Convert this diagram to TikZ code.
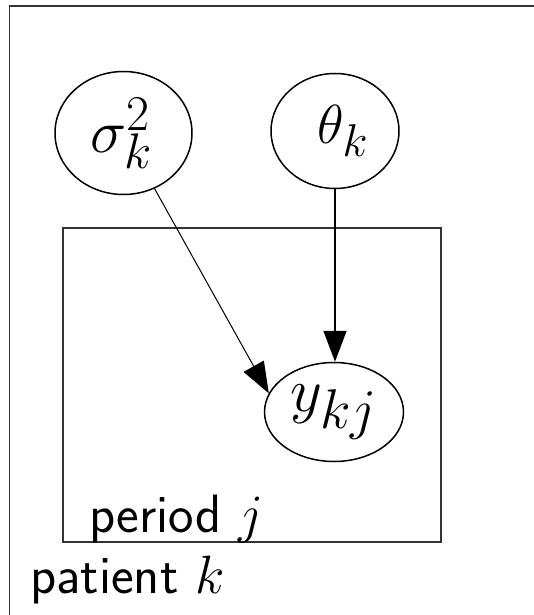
\RequirePackage{fix-cm}
\documentclass[tikz,border=0pt]{standalone}
\usetikzlibrary{shapes.geometric,arrows.meta}
% math sizes for the large node fonts
\DeclareMathSizes{27}{27}{22.5}{16}
\DeclareMathSizes{27.5}{27.5}{23}{17}
\DeclareMathSizes{30.5}{30.5}{25}{18}
\DeclareMathSizes{31}{31}{28}{20}
\begin{document}
\begin{tikzpicture}[x=0.5pt,y=-0.5pt,
  var/.style={ellipse,draw,line width=0.75pt,inner sep=0pt},
  plate/.style={draw=black!80,line width=0.8pt},
  platelabel/.style={anchor=base west,inner sep=0pt,
    font=\fontsize{27}{32}\selectfont\sffamily},
  edge/.style={-{Triangle[length=15.5pt,width=11.5pt]}}]
\useasboundingbox (0,0) rectangle (534,615);

% outer plate (patient), running off the page at right and bottom
\draw[plate] (9.5,615) -- (9.5,6) -- (534,6);
% inner plate (period)
\draw[plate] (63,228) rectangle (441,542);

% variables
\node[var,minimum width=68.5pt,minimum height=61.5pt,
  font=\fontsize{30.5}{36}\selectfont] (sig) at (123.5,133) {$\sigma_k^2$\hspace*{2pt}};
\node[var,minimum width=64pt,minimum height=57.5pt,
  font=\fontsize{27.5}{33}\selectfont] (th) at (335,131) {\hspace*{8pt}$\theta_k$};
\node[var,minimum width=69.5pt,minimum height=49.5pt,
  font=\fontsize{31}{37}\selectfont] (y) at (334,412) {$y_{kj}$};

% edges
\draw[edge,line width=0.5pt] (sig) -- (y.164);
\draw[edge,line width=0.8pt] (th.south) -- (th.south |- y.north);

% plate labels
\node[platelabel] (lj) at (89,532) {period $j$};
\node[platelabel] (lk) at (30,593) {patient $k$};
\end{tikzpicture}
\end{document}
